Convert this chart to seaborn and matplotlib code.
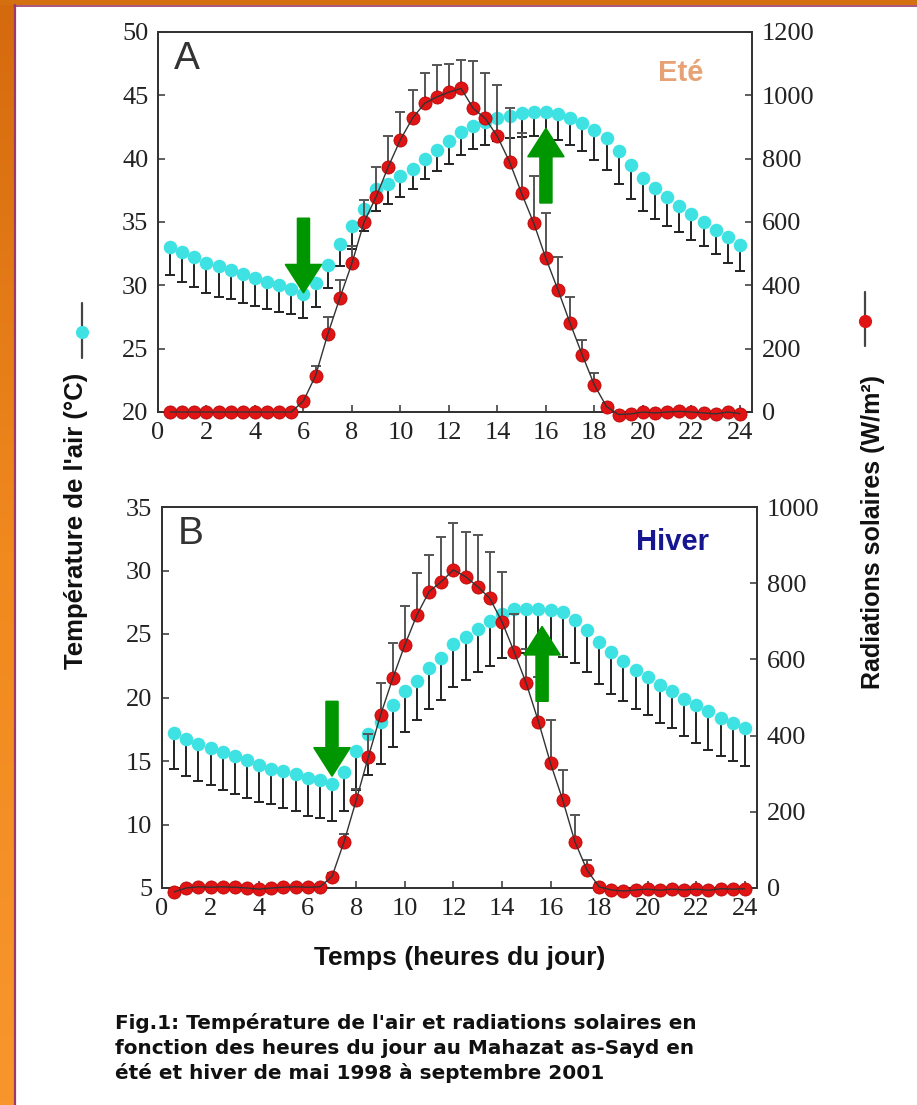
import numpy as np
import pandas as pd
import matplotlib
matplotlib.use("Agg")
import matplotlib.pyplot as plt
from matplotlib.lines import Line2D
from matplotlib.patches import FancyArrow
from matplotlib.colors import LinearSegmentedColormap
import seaborn as sns

# ---------------- data ----------------
hours = [0.5, 1.0, 1.5, 2.0, 2.5, 3.0, 3.5, 4.0, 4.5, 5.0, 5.5, 6.0,
         6.5, 7.0, 7.5, 8.0, 8.5, 9.0, 9.5, 10.0, 10.5, 11.0, 11.5, 12.0,
         12.5, 13.0, 13.5, 14.0, 14.5, 15.0, 15.5, 16.0, 16.5, 17.0, 17.5, 18.0,
         18.5, 19.0, 19.5, 20.0, 20.5, 21.0, 21.5, 22.0, 22.5, 23.0, 23.5, 24.0]

# Eté (panel A)
temp_ete = [33.0, 32.6, 32.2, 31.8, 31.5, 31.2, 30.9, 30.6, 30.3, 30.0, 29.7, 29.3,
            30.2, 31.6, 33.3, 34.7, 36.0, 37.6, 38.0, 38.6, 39.2, 40.0, 40.7, 41.4,
            42.1, 42.6, 42.9, 43.2, 43.4, 43.6, 43.7, 43.7, 43.5, 43.2, 42.8, 42.3,
            41.6, 40.6, 39.5, 38.5, 37.7, 37.0, 36.3, 35.6, 35.0, 34.4, 33.8, 33.2]
temp_ete_err = [2.2, 2.3, 2.3, 2.4, 2.4, 2.3, 2.3, 2.2, 2.2, 2.1, 2.0, 1.9,
                1.9, 1.8, 1.8, 1.8, 1.7, 1.7, 1.6, 1.6, 1.6, 1.6, 1.7, 1.8,
                1.8, 1.8, 1.8, 1.8, 1.8, 1.9, 1.9, 1.9, 2.0, 2.1, 2.2, 2.4,
                2.5, 2.6, 2.7, 2.6, 2.5, 2.3, 2.1, 2.0, 1.9, 1.9, 2.0, 2.1]
rad_ete = [0, 0, 0, 0, 0, 0, 0, 0, 0, 0, 0, 35,
           115, 245, 360, 470, 600, 680, 775, 860, 928, 975, 995, 1010,
           1022, 959, 927, 870, 790, 690, 596, 485, 385, 280, 180, 85,
           17, -8, -6, 0, -3, 0, 2, 0, -3, -6, 0, -5]
rad_ete_err = [0, 0, 0, 0, 0, 0, 0, 0, 0, 0, 0, 10,
               30, 55, 58, 55, 70, 95, 95, 88, 88, 95, 100, 88,
               90, 148, 142, 163, 170, 190, 148, 142, 105, 84, 47, 37,
               10, 0, 0, 0, 0, 0, 0, 0, 0, 0, 0, 0]

# Hiver (panel B)
temp_hiver = [17.2, 16.7, 16.3, 16.0, 15.7, 15.4, 15.1, 14.7, 14.4, 14.2, 14.0, 13.7,
              13.5, 13.2, 14.1, 15.8, 17.1, 18.1, 19.4, 20.5, 21.3, 22.3, 23.1, 24.2,
              24.8, 25.4, 26.0, 26.6, 27.0, 27.0, 27.0, 26.9, 26.7, 26.1, 25.3, 24.4,
              23.6, 22.9, 22.2, 21.6, 21.0, 20.5, 19.9, 19.4, 18.9, 18.4, 18.0, 17.6]
temp_hiver_err = [2.8, 2.9, 2.9, 2.9, 3.0, 3.0, 3.0, 2.9, 2.8, 2.9, 2.9, 3.0,
                  3.0, 2.9, 3.0, 3.1, 3.2, 3.3, 3.3, 3.2, 3.1, 3.2, 3.3, 3.4,
                  3.4, 3.4, 3.5, 3.5, 3.5, 3.5, 3.5, 3.5, 3.5, 3.4, 3.3, 3.3,
                  3.3, 3.2, 3.1, 3.0, 3.0, 2.9, 2.9, 3.0, 3.0, 3.0, 3.0, 3.0]
rad_hiver = [-10, 0, 3, 2, 3, 2, 0, -3, 0, 2, 3, 2,
             3, 30, 122, 231, 345, 454, 550, 638, 717, 778, 804, 835,
             817, 791, 760, 699, 620, 537, 437, 327, 231, 122, 47, 3,
             -5, -8, -5, -3, -6, -3, -5, -3, -6, -2, -3, -2]
rad_hiver_err = [0, 0, 0, 0, 0, 0, 0, 0, 0, 0, 0, 0,
                 0, 10, 20, 30, 60, 83, 92, 101, 110, 96, 118, 123,
                 118, 136, 123, 131, 100, 90, 118, 113, 79, 70, 26, 10,
                 0, 0, 0, 0, 0, 0, 0, 0, 0, 0, 0, 0]

x_ticks = [0, 2, 4, 6, 8, 10, 12, 14, 16, 18, 20, 22, 24]
temp_ticks_ete = [20, 25, 30, 35, 40, 45, 50]
rad_ticks_ete = [0, 200, 400, 600, 800, 1000, 1200]
temp_ticks_hiver = [5, 10, 15, 20, 25, 30, 35]
rad_ticks_hiver = [0, 200, 400, 600, 800, 1000]

# arrows: (hour, tail temperature, tip temperature)
arrows_ete = [(6.0, 35.3, 29.4), (16.0, 36.5, 42.4)]
arrows_hiver = [(7.0, 19.7, 13.8), (15.65, 19.7, 25.6)]

# ---------------- style ----------------
sns.set_theme(style="white")
plt.rcParams["font.family"] = ["Liberation Sans", "DejaVu Sans"]

W, H = 917, 1105
CYAN = "#3fe2e2"
RED = "#e01414"
GREEN = "#009600"
SERIF = ["Liberation Serif", "DejaVu Serif"]
TICK_FS = 19


def fx(px):
    return px / W


def fy(py):
    return 1 - py / H


fig = plt.figure(figsize=(W / 100, H / 100), dpi=100)
fig.patch.set_facecolor("white")


def panel(rect, temp, temp_err, rad, rad_err, tlim, tticks, rlim, rticks,
          letter, season, season_color, season_xy, arrows):
    left, right, top, bottom = rect
    ax = fig.add_axes([fx(left), fy(bottom), (right - left) / W, (bottom - top) / H])
    df = pd.DataFrame({"h": hours, "t": temp, "te": temp_err,
                       "r": rad, "re": rad_err})

    # temperature: downward error bars + cyan markers
    ax.errorbar(df["h"], df["t"], yerr=[df["te"], np.zeros(len(df))], fmt="none",
                ecolor="#222222", elinewidth=1.4, capsize=3.8, capthick=1.4,
                zorder=2, clip_on=False)
    sns.scatterplot(data=df, x="h", y="t", ax=ax, color=CYAN, s=95,
                    linewidth=0, zorder=3, clip_on=False, legend=False)
    ax.set_ylim(*tlim)
    ax.set_yticks(tticks)

    # radiation on twin axis
    ax2 = ax.twinx()
    dfe = df[df["re"] > 0]
    ax2.errorbar(dfe["h"], dfe["r"], yerr=[np.zeros(len(dfe)), dfe["re"]], fmt="none",
                 ecolor="#555555", elinewidth=1.4, capsize=3.8, capthick=1.4,
                 zorder=2, clip_on=False)
    sns.scatterplot(data=df, x="h", y="r", ax=ax2, color=RED, s=90,
                    edgecolor="#b00000", linewidth=0.5, zorder=3, clip_on=False,
                    legend=False)
    sns.lineplot(data=df, x="h", y="r", ax=ax2, color="#333333", linewidth=1.0,
                 zorder=4, clip_on=False, legend=False)
    ax2.set_ylim(*rlim)
    ax2.set_yticks(rticks)

    for a in (ax, ax2):
        a.set_xlim(0, 24.5)
        a.set_xlabel("")
        a.set_ylabel("")
        for s in a.spines.values():
            s.set_color("#333333")
            s.set_linewidth(1.3)
    ax.set_xticks(x_ticks)
    ax.tick_params(axis="both", direction="in", length=5, width=1.1,
                   colors="#333333", labelcolor="#222222", labelsize=TICK_FS, pad=7,
                   left=True, bottom=True, right=False, top=False)
    ax2.tick_params(axis="y", direction="in", length=5, width=1.1,
                    colors="#333333", labelcolor="#222222", labelsize=TICK_FS, pad=7,
                    right=True, left=False)
    for lab in ax.get_xticklabels() + ax.get_yticklabels() + ax2.get_yticklabels():
        lab.set_fontfamily(SERIF)

    ax.text(0.027, 0.93, letter, transform=ax.transAxes, fontsize=28,
            color="#333333", ha="left", va="center")
    ax2.text(season_xy[0], season_xy[1], season, transform=ax.transAxes,
             fontsize=21, fontweight="bold", color=season_color,
             ha="center", va="center")

    # green arrows drawn above everything (on ax2, in temperature coordinates)
    tspan = tlim[1] - tlim[0]
    for (xh, y0, y1) in arrows:
        hl = tspan * 0.075
        arr = FancyArrow(xh, y0, 0, y1 - y0, width=0.5, head_width=1.5,
                         head_length=hl, length_includes_head=True,
                         color=GREEN, transform=ax.transData, zorder=6)
        ax2.add_patch(arr)
    return ax, ax2


panel((158, 752, 32, 412), temp_ete, temp_ete_err, rad_ete, rad_ete_err,
      (20, 50), temp_ticks_ete, (0, 1200), rad_ticks_ete,
      "A", "Eté", "#e6a274", (0.88, 0.893), arrows_ete)
panel((162, 757, 507, 888), temp_hiver, temp_hiver_err, rad_hiver, rad_hiver_err,
      (5, 35), temp_ticks_hiver, (0, 1000), rad_ticks_hiver,
      "B", "Hiver", "#161690", (0.858, 0.909), arrows_hiver)

# axis titles
fig.text(fx(76), fy(521), "Température de l'air (°C)", rotation=90, fontsize=18.5,
         fontweight="bold", ha="center", va="center", color="#111111")
fig.text(fx(873), fy(532), "Radiations solaires (W/m²)", rotation=90, fontsize=18,
         fontweight="bold", ha="center", va="center", color="#111111")
fig.text(fx(460), fy(958), "Temps (heures du jour)", fontsize=19,
         fontweight="bold", ha="center", va="center", color="#111111")

# legend-like glyphs next to the axis titles
fig.add_artist(Line2D([fx(82), fx(82)], [fy(303), fy(358)], color="#444444", lw=1.6))
fig.add_artist(Line2D([fx(82)], [fy(332)], marker="o", markersize=9.5, color=CYAN,
                      markeredgewidth=0))
fig.add_artist(Line2D([fx(865), fx(865)], [fy(292), fy(346)], color="#444444", lw=1.6))
fig.add_artist(Line2D([fx(865)], [fy(321)], marker="o", markersize=9.5, color=RED,
                      markeredgewidth=0))

# caption
caption = ["Fig.1: Température de l'air et radiations solaires en",
           "fonction des heures du jour au Mahazat as-Sayd en",
           "été et hiver de mai 1998 à septembre 2001"]
for i, line in enumerate(caption):
    fig.text(fx(115), fy(1023 + 25 * i), line, fontsize=14.4, fontweight="bold",
             family="DejaVu Sans", ha="left", va="center", color="#111111")

# orange frame (left and top)
grad_ax = fig.add_axes([0, 0, 14 / W, 1])
grad = np.linspace(0, 1, 256).reshape(-1, 1)
cmap = LinearSegmentedColormap.from_list("frame", ["#d46a0e", "#f0891e", "#f8962c"])
grad_ax.imshow(grad, aspect="auto", cmap=cmap, extent=[0, 1, 0, 1])
grad_ax.set_axis_off()
top_ax = fig.add_axes([0, 1 - 5 / H, 1, 5 / H])
top_ax.set_facecolor("#d4700f")
top_ax.set_xticks([])
top_ax.set_yticks([])
for s in top_ax.spines.values():
    s.set_visible(False)
fig.add_artist(Line2D([fx(15), fx(15)], [0, fy(5)], color="#9b3a6a", lw=1.6))
fig.add_artist(Line2D([fx(14), 1], [fy(5.5), fy(5.5)], color="#9b3a6a", lw=1.2))

fig.savefig("out.png", dpi=100, facecolor="white")
